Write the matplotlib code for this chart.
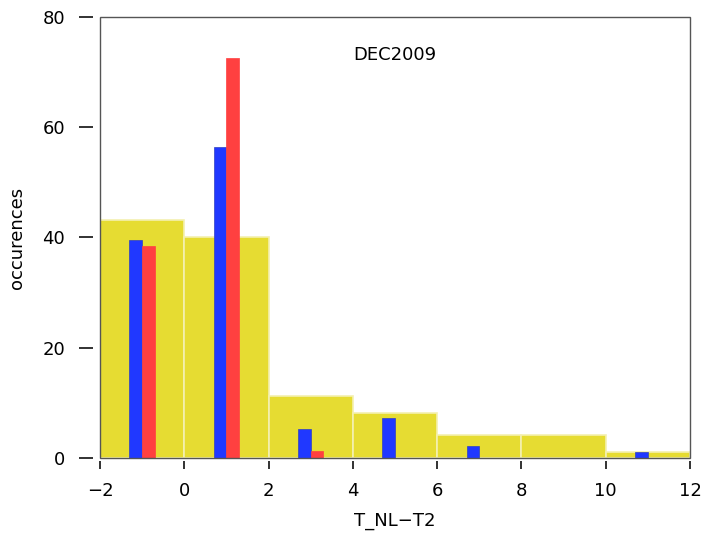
import matplotlib
matplotlib.use("Agg")
import matplotlib.pyplot as plt
from matplotlib.patches import Rectangle
import numpy as np

# Data
bin_edges = [-2, 0, 2, 4, 6, 8, 10, 12]
yellow_counts = [43.2, 40.0, 11.2, 8.1, 4.2, 4.2, 1.1]
blue_centers = [-1.15, 0.85, 2.85, 4.85, 6.85, 10.85]
blue_values = [39.5, 56.4, 5.2, 7.2, 2.1, 1.1]
red_centers = [-0.85, 1.15, 3.15]
red_values = [38.4, 72.5, 1.2]
title_text = "DEC2009"
xlabel = "T_NL\u2212T2"
ylabel = "occurences"

plt.rcParams['font.family'] = ['DejaVu Sans']

fig = plt.figure(figsize=(7.08, 5.34), dpi=100)
ax = fig.add_axes([0.1412, 0.1423, 0.9746 - 0.1412, 0.9682 - 0.1423])

lefts = bin_edges[:-1]
widths = np.diff(bin_edges)
ax.bar(lefts, yellow_counts, width=widths, align='edge', color='#e6dc32',
       edgecolor='#f4f0b0', linewidth=1.2, zorder=1)
ax.bar(blue_centers, blue_values, width=0.3, color='#2038ff',
       edgecolor='#3040c0', linewidth=0.5, zorder=2)
ax.bar(red_centers, red_values, width=0.3, color='#ff4040',
       edgecolor='#ff4040', linewidth=0.5, zorder=2)

ax.set_xlim(-2, 12)
ax.set_ylim(0, 80)
ax.set_xticks(range(-2, 13, 2))
ax.set_yticks(range(0, 81, 20))
ax.set_xticklabels([("\u2212" + str(-v)) if v < 0 else str(v) for v in range(-2, 13, 2)])

for s in ax.spines.values():
    s.set_visible(False)
ax.spines['left'].set_position(('outward', 5))
ax.spines['bottom'].set_position(('outward', 2))
ax.add_patch(Rectangle((0, 0), 1, 1, transform=ax.transAxes, fill=False,
                       edgecolor='#555555', linewidth=1.0, zorder=5, clip_on=False))

ax.tick_params(axis='both', direction='out', width=1.3, color='#222222',
               labelsize=13)
ax.tick_params(axis='y', length=10, pad=10)
ax.tick_params(axis='x', length=6, pad=9)

ax.set_xlabel(xlabel, fontsize=13, labelpad=9)
ax.set_ylabel(ylabel, fontsize=13, labelpad=12)

ax.text(0.5, 0.914, title_text, transform=ax.transAxes, ha='center', va='center',
        fontsize=13)

fig.savefig("out.png", dpi=100)
